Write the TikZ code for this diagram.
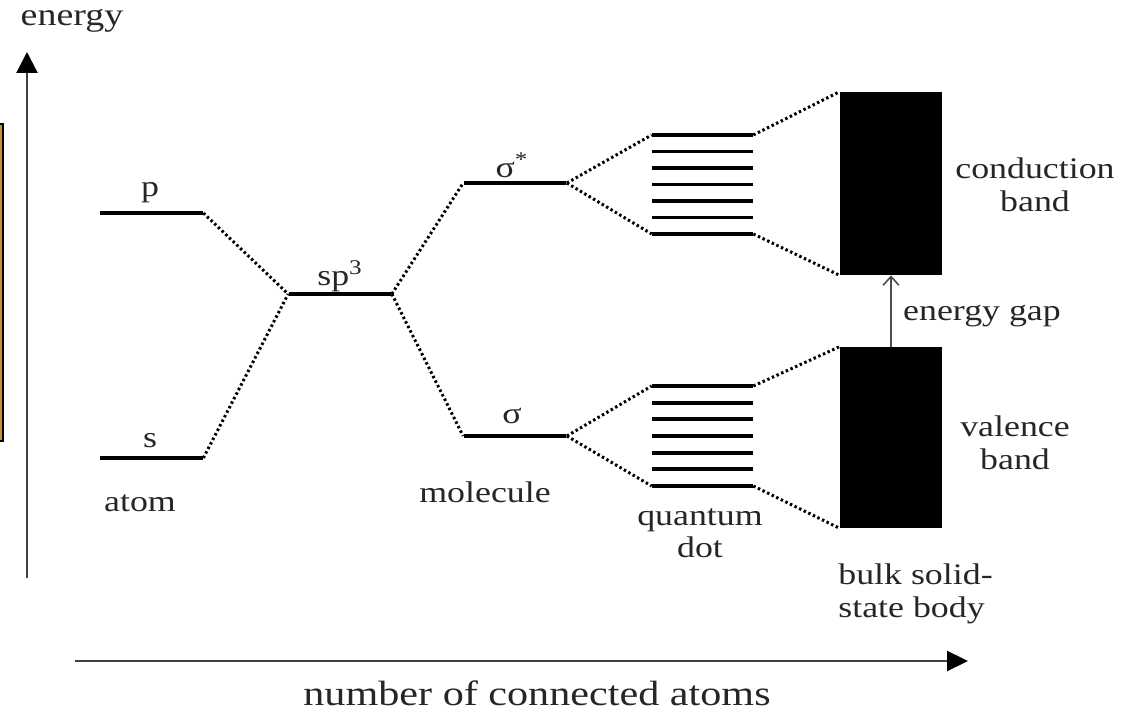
\documentclass[tikz,border=0pt]{standalone}
\usepackage{fontspec}
\setmainfont{Liberation Serif}[FakeStretch=1.2]
\usetikzlibrary{arrows.meta}
\definecolor{boxorange}{RGB}{205,145,50}
\begin{document}
\begin{tikzpicture}[x=0.02cm, y=-0.02cm,
    level/.style={fill=black, inner sep=0pt, minimum width=2.06cm, minimum height=0.08cm},
    qlevel/.style={fill=black, inner sep=0pt, minimum width=2.02cm, minimum height=0.075cm},
    band/.style={fill=black, inner sep=0pt, minimum width=2.04cm},
    link/.style={line width=1.7pt, dash pattern=on 1.4pt off 1.5pt},
    lbl/.style={font=\fontsize{17}{18.5}\selectfont, inner sep=0pt, text=black!85, align=center},
    axis/.style={line width=1.3pt, draw=black!75}]
        \useasboundingbox (0,0) rectangle (1127,712);

        % Draw the box at the left edge
        \draw[fill=boxorange, line width=1pt] (-10,124) rectangle (3,441);

        % Draw the axes
        \coordinate (ybase) at (27,578);
        \coordinate (ytop) at (27,52);
        \coordinate (xbase) at (75,661);
        \coordinate (xtop) at (968,661);
        \draw[axis, -{Triangle[length=0.42cm, width=0.42cm, color=black, fill=black]}] (ybase) -- (ytop);
        \draw[axis, -{Triangle[length=0.42cm, width=0.4cm, color=black, fill=black]}] (xbase) -- (xtop);
        \node[lbl, font=\fontsize{18}{20}\selectfont] (energy) at (72,21) {energy};
        \node[lbl, font=\fontsize{20}{24}\selectfont] (atoms) at (537,693) {number of connected atoms};

        % Draw the atom and molecule levels
        \node[level] (p) at (151.5,213) {};
        \node[level] (s) at (151.5,458) {};
        \node[level] (sp3) at (340,294) {};
        \node[level] (sigmastar) at (515,183) {};
        \node[level] (sigma) at (515,436) {};

        % Draw the quantum dot levels
        \foreach \i in {1,...,7} {
            \node[qlevel] (qu\i) at (702.5,{135+(\i-1)*16.5}) {};
            \node[qlevel] (ql\i) at (702.5,{386+(\i-1)*16.67}) {};
        }

        % Draw the bands
        \node[band, minimum height=3.66cm] (cb) at (891,183.5) {};
        \node[band, minimum height=3.62cm] (vb) at (891,437.5) {};

        % Draw the dotted links
        \draw[link] (p.east) -- (sp3.west);
        \draw[link] (s.east) -- (sp3.west);
        \draw[link] (sp3.east) -- (sigmastar.west);
        \draw[link] (sp3.east) -- (sigma.west);
        \draw[link] (sigmastar.east) -- (qu1.west);
        \draw[link] (sigmastar.east) -- (qu7.west);
        \draw[link] (sigma.east) -- (ql1.west);
        \draw[link] (sigma.east) -- (ql7.west);
        \draw[link] (qu1.east) -- (cb.north west);
        \draw[link] (qu7.east) -- (cb.south west);
        \draw[link] (ql1.east) -- (vb.north west);
        \draw[link] (ql7.east) -- (vb.south west);

        % Draw the gap arrow
        \draw[line width=0.9pt, draw=black!70, -{Straight Barb[length=5pt, width=9pt]}] (vb.north) -- (cb.south);

        % Add the labels
        \node[lbl] (plbl) at (150,193) {p};
        \node[lbl] (slbl) at (150,441) {s};
        \node[lbl] (sp3lbl) at (340,276) {sp\textsuperscript{3}};
        \node[lbl] (sigmastarlbl) at (512,165) {σ\textsuperscript{*}};
        \node[lbl] (sigmalbl) at (512,416) {σ};
        \node[lbl] (atom) at (140,503) {atom};
        \node[lbl] (molecule) at (485,492) {molecule};
        \node[lbl] (qdot) at (700,533) {quantum\\dot};
        \node[lbl] (cband) at (1035,185) {conduction\\band};
        \node[lbl] (gap) at (982,316) {energy gap};
        \node[lbl] (vband) at (1015,443) {valence\\band};
        \node[lbl, anchor=west, align=left] (bulk) at (838,594) {bulk solid-\\state body};
\end{tikzpicture}
\end{document}
